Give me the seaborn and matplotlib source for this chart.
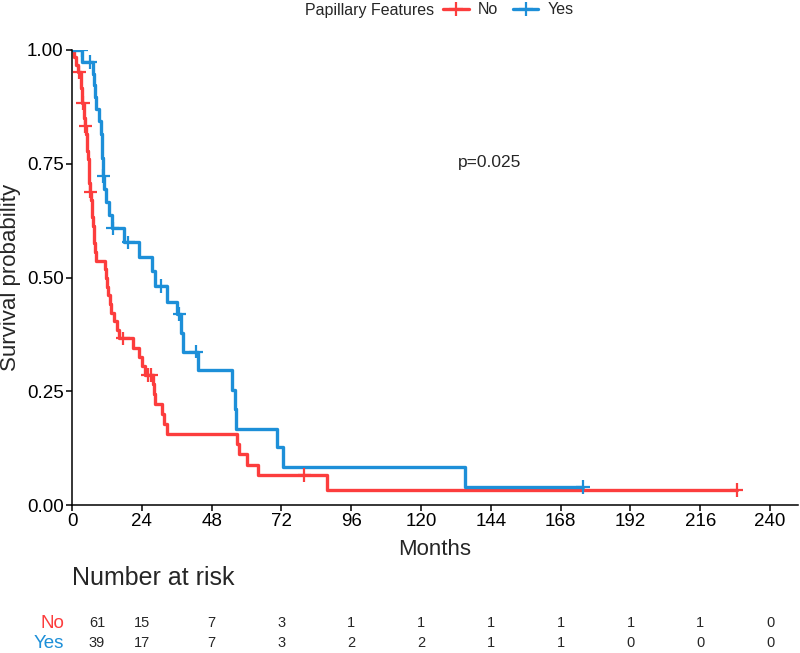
import numpy as np
import pandas as pd
import matplotlib
matplotlib.use("Agg")
import matplotlib.pyplot as plt
from matplotlib.lines import Line2D
from matplotlib.transforms import blended_transform_factory
import seaborn as sns

# ── Kaplan-Meier steps ───────────────────────────────────────────────────────
red_time = [0, 0.7, 1.3, 2.0, 3.0, 3.2, 3.4, 3.6, 4.0, 4.2, 4.4, 4.9, 5.1, 5.3,
            5.5, 5.7, 5.9, 6.0, 6.1, 6.5, 6.8, 7.0, 7.2, 7.4, 7.7, 8.0, 8.4,
            11.3, 11.7, 12.1, 12.5, 13.0, 13.5, 14.5, 15.3, 16.3, 21.1, 23.0,
            24.0, 25.0, 27.7, 28.2, 28.5, 30.8, 31.8, 32.5, 56.6, 57.5, 60.0,
            64.0, 87.6, 228.5]
red_surv = [1.0, 0.984, 0.967, 0.951, 0.934, 0.917, 0.900, 0.884, 0.867, 0.850,
            0.833, 0.815, 0.797, 0.779, 0.761, 0.743, 0.725, 0.707, 0.689,
            0.670, 0.651, 0.632, 0.613, 0.594, 0.575, 0.556, 0.537, 0.518,
            0.499, 0.480, 0.461, 0.442, 0.423, 0.404, 0.385, 0.366, 0.346,
            0.326, 0.306, 0.286, 0.265, 0.243, 0.221, 0.199, 0.177, 0.155,
            0.133, 0.111, 0.089, 0.066, 0.033, 0.033]
red_cens_time = [2.5, 3.8, 4.6, 6.3, 17.6, 26.2, 27.2, 79.9, 228.5]
red_cens_surv = [0.951, 0.884, 0.833, 0.689, 0.366, 0.286, 0.286, 0.066, 0.033]

blue_time = [0, 3.5, 7.1, 7.6, 8.0, 8.3, 9.4, 9.8, 10.2, 10.4, 10.6, 11.0, 11.6,
             12.6, 13.6, 17.9, 23.1, 27.4, 28.5, 32.6, 36.2, 37.4, 38.3, 43.2,
             54.9, 56.0, 56.3, 70.6, 72.7, 135.1, 175.6]
blue_surv = [1.0, 0.974, 0.948, 0.922, 0.896, 0.870, 0.843, 0.816, 0.789, 0.762,
             0.723, 0.694, 0.665, 0.637, 0.608, 0.577, 0.546, 0.514, 0.481,
             0.447, 0.420, 0.378, 0.337, 0.297, 0.253, 0.211, 0.168, 0.127,
             0.083, 0.040, 0.040]
blue_cens_time = [3.3, 6.2, 10.8, 14.0, 19.4, 30.6, 36.9, 42.6, 175.6]
blue_cens_surv = [1.0, 0.974, 0.723, 0.608, 0.577, 0.481, 0.420, 0.337, 0.040]

groups = ["No", "Yes"]
colors = {"No": "#FC3D3D", "Yes": "#1D8FD8"}

x_ticks = [0, 24, 48, 72, 96, 120, 144, 168, 192, 216, 240]
y_ticks = [0.0, 0.25, 0.5, 0.75, 1.0]

risk_times = [0, 24, 48, 72, 96, 120, 144, 168, 192, 216, 240]
risk_no = [61, 15, 7, 3, 1, 1, 1, 1, 1, 1, 0]
risk_yes = [39, 17, 7, 3, 2, 2, 1, 1, 0, 0, 0]

p_text = "p=0.025"

# ── build tables ─────────────────────────────────────────────────────────────
curves = pd.concat([
    pd.DataFrame({"time": red_time, "surv": red_surv, "group": "No"}),
    pd.DataFrame({"time": blue_time, "surv": blue_surv, "group": "Yes"}),
], ignore_index=True)
cens = pd.concat([
    pd.DataFrame({"time": red_cens_time, "surv": red_cens_surv, "group": "No"}),
    pd.DataFrame({"time": blue_cens_time, "surv": blue_cens_surv, "group": "Yes"}),
], ignore_index=True)

sns.set_style("ticks")
plt.rcParams["font.family"] = ["Liberation Sans", "DejaVu Sans"]

fig = plt.figure(figsize=(8.0, 6.53), dpi=100)
ax = fig.add_axes([72 / 800, 1 - 505 / 653, (798 - 72) / 800, (505 - 50) / 653])

for g in groups:
    sub = curves[curves["group"] == g]
    sns.lineplot(data=sub, x="time", y="surv", color=colors[g], ax=ax,
                 estimator=None, sort=False, drawstyle="steps-post",
                 linewidth=2.4, legend=False)
sns.scatterplot(data=cens, x="time", y="surv", hue="group", palette=colors,
                marker="+", s=95, linewidth=1.6, ax=ax, legend=False, zorder=4)

ax.set_xlim(0, 249.6)
ax.set_ylim(0, 1.0)
ax.set_xticks(x_ticks)
ax.set_yticks(y_ticks)
ax.set_yticklabels([f"{v:.2f}" for v in y_ticks])
ax.tick_params(axis="both", labelsize=13.5, length=4, width=1.1, color="black",
               labelcolor="black", pad=2)
for side in ("top", "right"):
    ax.spines[side].set_visible(False)
for side in ("left", "bottom"):
    ax.spines[side].set_linewidth(1.1)
    ax.spines[side].set_color("black")
ax.set_xlabel("Months", fontsize=16, labelpad=6)
ax.set_ylabel("Survival probability", fontsize=16, labelpad=4)

ax.text(132.7, 0.752, p_text, ha="left", va="center", fontsize=12.5)

# ── legend on top, title to the left of the keys ─────────────────────────────
fig.text(305 / 800, 1 - 10 / 653, "Papillary Features", ha="left", va="center",
         fontsize=11.5)
handles = [Line2D([], [], color=colors[g], linewidth=2.4, marker="+",
                  markersize=10, markeredgewidth=1.6) for g in groups]
fig.legend(handles, groups, ncol=2, loc="center left",
           bbox_to_anchor=(443 / 800, 1 - 10 / 653), frameon=False,
           fontsize=11.5, handlelength=1.6, handletextpad=0.6,
           columnspacing=0.9, borderpad=0, borderaxespad=0)

# ── number at risk table ─────────────────────────────────────────────────────
fig.text(72 / 800, 1 - 578 / 653, "Number at risk", ha="left", va="center",
         fontsize=18)
tr = blended_transform_factory(ax.transData, fig.transFigure)
rows = [("No", risk_no, 623), ("Yes", risk_yes, 643)]
for name, counts, ypx in rows:
    fig.text(64 / 800, 1 - ypx / 653, name, ha="right", va="center",
             fontsize=13.5, color=colors[name])
    for t, n in zip(risk_times, counts):
        xpos = max(t, 8.6)  # first column is nudged right of the y axis
        ax.text(xpos, 1 - ypx / 653, str(n), transform=tr, ha="center",
                va="center", fontsize=10.5, clip_on=False)

fig.savefig("out.png", dpi=100)
plt.close(fig)
